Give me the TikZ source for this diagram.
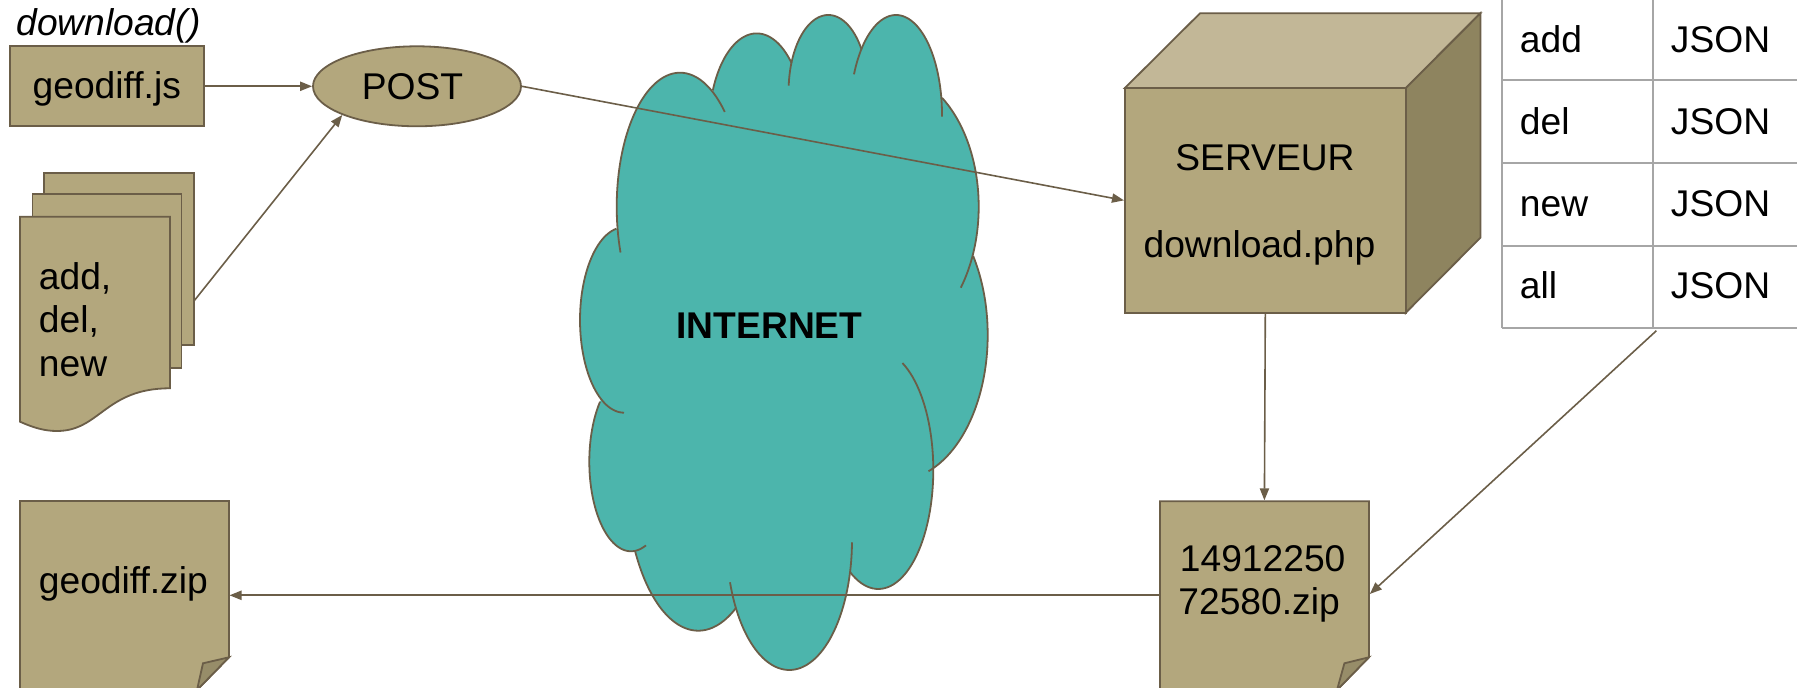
\documentclass[tikz,border=0pt]{standalone}
\usepackage{fontspec}
\setmainfont{Liberation Sans}
\usetikzlibrary{arrows.meta,shapes.geometric}
\definecolor{tan}{HTML}{B3A77D}
\definecolor{tantop}{HTML}{C2B797}
\definecolor{tanside}{HTML}{8E845F}
\definecolor{tanfold}{HTML}{978D69}
\definecolor{edge}{HTML}{6B5E48}
\definecolor{cloudfill}{HTML}{4CB5AC}
\definecolor{gridline}{HTML}{A6A6A6}
\tikzset{
  x=0.5pt,y=-0.5pt,
  shapeline/.style={draw=edge,line width=0.9pt,line join=miter},
  tanshape/.style={shapeline,fill=tan},
  conn/.style={draw=edge,line width=0.8pt,-{Triangle[length=6pt,width=4.6pt,fill=edge]}},
  lbl/.style={anchor=base west,inner sep=0pt,font=\fontsize{18.6}{22}\selectfont,text=black},
  clbl/.style={anchor=base,inner sep=0pt,font=\fontsize{18.6}{22}\selectfont,text=black},
  lobe/.style={draw=edge,line width=0.9pt},
  grid line/.style={draw=gridline,line width=1pt},
}
\newcommand\lobefill[4]{\fill[cloudfill] (#1,#2) ellipse [x radius=#3,y radius=#4];}
\newcommand\lobearc[6]{\draw[lobe] plot[domain=#5:#6,samples=60,variable=\t] ({#1+#3*cos(\t)},{#2+#4*sin(\t)});}
\newcommand\cloudlobes[1]{%
  #1{680}{206.7}{63.3}{134}{160}{315}
  #1{756.7}{127}{47.7}{93.6}{203}{317}
  #1{828.3}{91}{39.7}{76}{184}{327}
  #1{896}{115}{46}{100}{204}{361}
  #1{889.7}{206.7}{89}{134.6}{306}{397}
  #1{897.7}{335}{90}{145}{327}{430}
  #1{878.3}{470}{55}{119}{296}{481}
  #1{789.3}{540}{62.7}{130}{1}{161}
  #1{698.3}{474.7}{72.5}{156}{59}{151}
  #1{631}{461.7}{41.7}{89.6}{69}{222}
  #1{624}{320}{44}{92.7}{90}{260}
}
\newcommand\lobefillsix[6]{\lobefill{#1}{#2}{#3}{#4}}
\begin{document}
\begin{tikzpicture}
\useasboundingbox (0,0) rectangle (1797,688);
\clip (0,0) rectangle (1797,688);

% cloud
\cloudlobes{\lobefillsix}
\fill[cloudfill] (680,206) -- (757,127) -- (828,91) -- (896,115) -- (890,207) -- (897,335) -- (878,470) -- (789,540) -- (698,475) -- (631,462) -- (624,320) -- cycle;
\cloudlobes{\lobearc}
\node[anchor=base,inner sep=0pt,font=\fontsize{18.6}{22}\selectfont\bfseries] (internet) at (769.5,338.8) {INTERNET};

% client side
\node[lbl,font=\fontsize{18.6}{22}\selectfont\itshape] (fn) at (16,36) {download()};
\node[tanshape,rectangle,inner sep=0pt,minimum width=97.2pt,minimum height=40pt,text height=16pt,text depth=3.6pt,font=\fontsize{18.6}{22}\selectfont] (js) at (106.8,86.3) {geodiff.js};
\node[tanshape,ellipse,inner sep=0pt,minimum width=104pt,minimum height=40pt,text height=16pt,text depth=3pt,font=\fontsize{18.6}{22}\selectfont] (post) at (417,86.3) {POST\rule{4.6pt}{0pt}};

% stacked documents
\path[tanshape] (43.6,172.7) rectangle (194,345.3);
\path[tanshape] (32.5,194.3) rectangle (181.4,367.7);
\path[tanshape] (20,216.7) -- (170,216.7) -- (170,388.3) .. controls (105,388.3) and (100,431) .. (57,431) .. controls (45,431) and (34,428) .. (20,421.7) -- cycle;
\node[lbl] (tadd) at (38.5,290) {add,};
\node[lbl] (tdel) at (38.5,333) {del,};
\node[lbl] (tnew) at (38.5,377) {new};
\coordinate (docs) at (194,301);

% geodiff.zip
\path[tanshape] (20,501) -- (229,501) -- (229,657.3) -- (197,690) -- (20,690) -- cycle;
\path[shapeline,fill=tanfold] (229,657.3) -- (203,663.3) -- (197,690) -- cycle;
\node[lbl] (tzip) at (38.5,593.3) {geodiff.zip};
\coordinate (zipin) at (229.5,595.3);

% server cube
\path[shapeline,fill=tantop] (1124.9,88) -- (1200,13.3) -- (1480.4,13.3) -- (1405.8,88) -- cycle;
\path[shapeline,fill=tanside] (1405.8,88) -- (1480.4,13.3) -- (1480.4,237.7) -- (1405.8,312.7) -- cycle;
\node[tanshape,rectangle,inner sep=0pt,minimum width=140.45pt,minimum height=112.35pt] (server) at (1265.35,200.35) {};
\node[clbl] (tsrv) at (1265,170.3) {SERVEUR};
\node[lbl] (tphp) at (1143.2,257.2) {download.php};
\coordinate (srvin) at (server.west);

% table
\draw[grid line] (1502,-2) -- (1502,328.3);
\draw[grid line] (1652.9,-2) -- (1652.9,328.3);
\draw[grid line] (1502,80.3) -- (1800,80.3);
\draw[grid line] (1502,163) -- (1800,163);
\draw[grid line] (1502,245.7) -- (1800,245.7);
\draw[grid line] (1502,328.3) -- (1800,328.3);
\node[lbl] (c1) at (1519.5,52.5) {add};
\node[lbl] (c2) at (1519.5,134.5) {del};
\node[lbl] (c3) at (1519.5,217) {new};
\node[lbl] (c4) at (1519.5,299) {all};
\node[lbl] (d1) at (1670.5,52.5) {JSON};
\node[lbl] (d2) at (1670.5,134.5) {JSON};
\node[lbl] (d3) at (1670.5,217) {JSON};
\node[lbl] (d4) at (1670.5,299) {JSON};
\coordinate (tablefoot) at (1656.4,330.7);

% timestamped zip
\path[tanshape] (1160,501.3) -- (1368.9,501.3) -- (1368.9,657.3) -- (1337,690) -- (1160,690) -- cycle;
\path[shapeline,fill=tanfold] (1368.9,657.3) -- (1344.4,663.3) -- (1337,690) -- cycle;
\node[lbl] (tz1) at (1179.5,571.7) {14912250};
\node[lbl] (tz2) at (1178,615) {72580.zip};
\coordinate (stampin) at (1264.4,500.3);
\coordinate (stampright) at (1369.8,594);
\coordinate (stampleft) at (1160,595.3);
\coordinate (srvout) at (1265.3,312.7);

% connectors
\draw[conn] (js.east) -- (post.west);
\draw[conn] (docs) -- (post.201.6);
\draw[conn] (post.east) -- (srvin);
\draw[conn] (srvout) -- (stampin);
\draw[conn] (tablefoot) -- (stampright);
\draw[conn] (stampleft) -- (zipin);
\end{tikzpicture}
\end{document}
